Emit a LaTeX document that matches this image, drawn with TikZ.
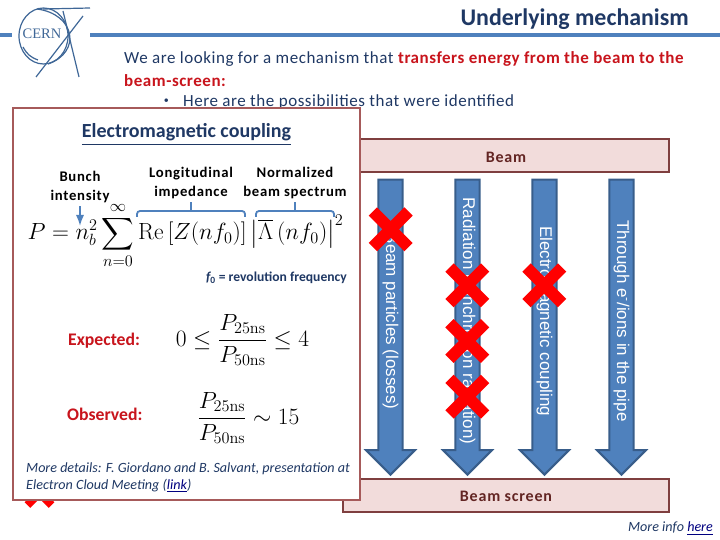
\documentclass[tikz,border=0pt]{standalone}
\usepackage{amsmath,amssymb}
\usepackage[no-math]{fontspec}
\setmainfont{Carlito}
\newfontfamily\arrowfont{Liberation Sans}
\newfontfamily\logofont{Liberation Serif}
\newfontfamily\widefont[LetterSpace=3.2]{Carlito}
\newfontfamily\capfont[LetterSpace=5]{Carlito}
\usepackage{xcolor}
\usetikzlibrary{arrows.meta,positioning,calc,shapes.arrows,shapes.misc}
\definecolor{headblue}{HTML}{1F3864}
\definecolor{linkblue}{HTML}{000080}
\definecolor{ruleblue}{HTML}{4F81BD}
\definecolor{edgeblue}{HTML}{385D8A}
\definecolor{alertred}{HTML}{C8141C}
\definecolor{panelred}{HTML}{A65A5A}
\definecolor{wallfill}{HTML}{F2DCDB}
\definecolor{walledge}{HTML}{7F3F3F}
\definecolor{walltext}{HTML}{632523}
\newcommand{\sizept}[1]{\fontsize{#1}{#1}\selectfont}
\begin{document}
\begin{tikzpicture}[
    x=1pt,
    y=-1pt,
    >=Latex,
    wall/.style={draw=walledge, line width=2pt, fill=wallfill, minimum height=33pt, inner sep=0pt},
    walllabel/.style={text=walltext, font=\capfont\sizept{16}\bfseries},
    flow/.style={single arrow, draw=edgeblue, line width=2pt, fill=ruleblue, rotate=-90, minimum height=295pt, minimum width=49pt, single arrow head extend=9pt, single arrow head indent=0pt, inner sep=0pt, text=white, font=\arrowfont\sizept{17}},
    nope/.style={cross out, draw=red, line width=11.8pt, minimum size=35.6pt, inner sep=0pt, outer sep=0pt},
    panel/.style={draw=panelred, line width=2.5pt, fill=white, minimum width=347pt, minimum height=392pt, inner sep=0pt},
    caption/.style={align=center, font=\capfont\sizept{14.7}\bfseries},
    alert/.style={text=alertred, font=\sizept{17.7}\bfseries},
    note/.style={text=headblue, font=\sizept{14.1}\itshape, inner sep=0pt},
    intro/.style={anchor=west, inner sep=0pt, font=\widefont\sizept{17}, text=headblue},
    formula/.style={inner sep=0pt, font=\sizept{20}, scale=1.13},
    bracket/.style={draw=ruleblue, line width=1.8pt, rounded corners=3pt},
    ring/.style={draw=ruleblue!80!black, line width=1.2pt}
]
\useasboundingbox (0,0) rectangle (720,540);
% header
\coordinate (ruleA) at (0,35.5);
\coordinate (ruleB) at (12,35.5);
\coordinate (ruleC) at (90,35.5);
\coordinate (ruleD) at (720,35.5);
\draw[ruleblue, line width=4pt] (ruleA) -- (ruleB);
\draw[ruleblue, line width=4pt] (ruleC) -- (ruleD);
\node[anchor=east, text=headblue, font=\sizept{23.9}\bfseries, inner sep=0pt] (title) at (689,19.5) {Underlying mechanism};
% logo
\draw[ring] (43.5,36) ellipse (24.5 and 28);
\draw[ring] (43,9) -- (90,8);
\draw[ring] (36,77) -- (83,16);
\draw[ring] (63,11) -- (79,77);
\draw[ring] (37,9) .. controls (75,14) and (82,52) .. (48,64);
\draw[ring] (23,47) .. controls (27,54) and (30,57) .. (38,60);
\node[text=ruleblue!80!black, font=\logofont\sizept{14.5}, inner sep=0pt] (cern) at (42,34) {CERN};
% intro
\node[intro] (introA) at (124,58.5) {We are looking for a mechanism that \textcolor{alertred}{\bfseries transfers energy from the beam to the}};
\node[intro, text=alertred, font=\widefont\sizept{17}\bfseries] (introB) at (124,80.5) {beam-screen:};
\node[intro] (introC) at (183,101.5) {Here are the possibilities that were identified};
\node[intro, left=14pt of introC, font=\sizept{10}] (introdot) {•};
% beam and screen
\node[wall, minimum width=326pt] (beam) at (506,156) {};
\node[wall, minimum width=326pt] (screen) at (506,495.5) {};
\node[walllabel] (beamtext) at (506,157) {Beam};
\node[walllabel] (screentext) at (506,496) {Beam screen};
% channels
\node[flow] (losses) at (390.5,321) {Beam particles (losses)};
\node[flow] (synchro) at (467.5,321) {Radiation (synchrotron radiation)};
\node[flow] (coupling) at (544.5,321) {Electromagnetic coupling};
\node[flow] (cloud) at (621.5,321) {Through e\textsuperscript{-}/ions in the pipe};
\node[nope] (crossA) at (390.7,229.3) {};
\node[nope] (crossB) at (467.3,285.3) {};
\node[nope] (crossC) at (544.3,285.3) {};
\node[nope] (crossD) at (467.3,341) {};
\node[nope] (crossE) at (467.3,396.7) {};
\node[nope, line width=8pt, minimum size=24pt] (crossF) at (39.5,493) {};
% panel
\node[panel] (box) at (186.5,304) {};
\node[text=headblue, font=\sizept{20}\bfseries, inner sep=0pt] (panelhead) at (186.5,134.5) {\underline{Electromagnetic coupling}};
\node[caption] (bunch) at (80,187) {Bunch\\[4pt]intensity};
\node[caption] (impedance) at (191,183) {Longitudinal\\[4pt]impedance};
\node[caption] (spectrum) at (295,183) {Normalized\\[4pt]beam spectrum};
\node[formula] (power) at (185.5,235.5) {$\displaystyle P=n_b^2\sum_{n=0}^{\infty}\mathrm{Re}\left[Z(nf_0)\right]\left|\overline{\Lambda}\,(nf_0)\right|^2$};
\coordinate (nb) at (80,226);
\draw[->, ruleblue, line width=1.8pt] (bunch.south) -- (nb);
\coordinate (zleft) at (137,217);
\coordinate (zmid) at (191,211);
\coordinate (zright) at (245,217);
\coordinate (lleft) at (256,217);
\coordinate (lmid) at (295,211);
\coordinate (lright) at (334,217);
\draw[bracket] (zleft) |- (zmid) -| (zright);
\draw[bracket] (lleft) |- (lmid) -| (lright);
\draw[bracket] (impedance.south) -- (zmid);
\draw[bracket] (spectrum.south) -- (lmid);
\node[anchor=east, text=headblue, font=\sizept{13.6}\bfseries, inner sep=0pt] (revfreq) at (347,278) {{\itshape f}\textsubscript{0} = revolution frequency};
\node[alert, anchor=west, inner sep=0pt] (expected) at (68,340.5) {Expected:};
\node[alert, anchor=west, inner sep=0pt] (observed) at (67,414.5) {Observed:};
\node[formula] (ratioA) at (242.5,340) {$\displaystyle 0\leq\frac{P_{25\mathrm{ns}}}{P_{50\mathrm{ns}}}\leq 4$};
\node[formula] (ratioB) at (248.5,418) {$\displaystyle \frac{P_{25\mathrm{ns}}}{P_{50\mathrm{ns}}}\sim 15$};
\node[note, anchor=west] (detailsA) at (26,469) {More details: F. Giordano and B. Salvant, presentation at};
\node[note, anchor=west] (detailsB) at (26,486) {Electron Cloud Meeting (\textcolor{linkblue}{\underline{link}})};
\node[note, anchor=east] (moreinfo) at (713,528.5) {More info \textcolor{linkblue}{\underline{here}}};
\end{tikzpicture}
\end{document}
